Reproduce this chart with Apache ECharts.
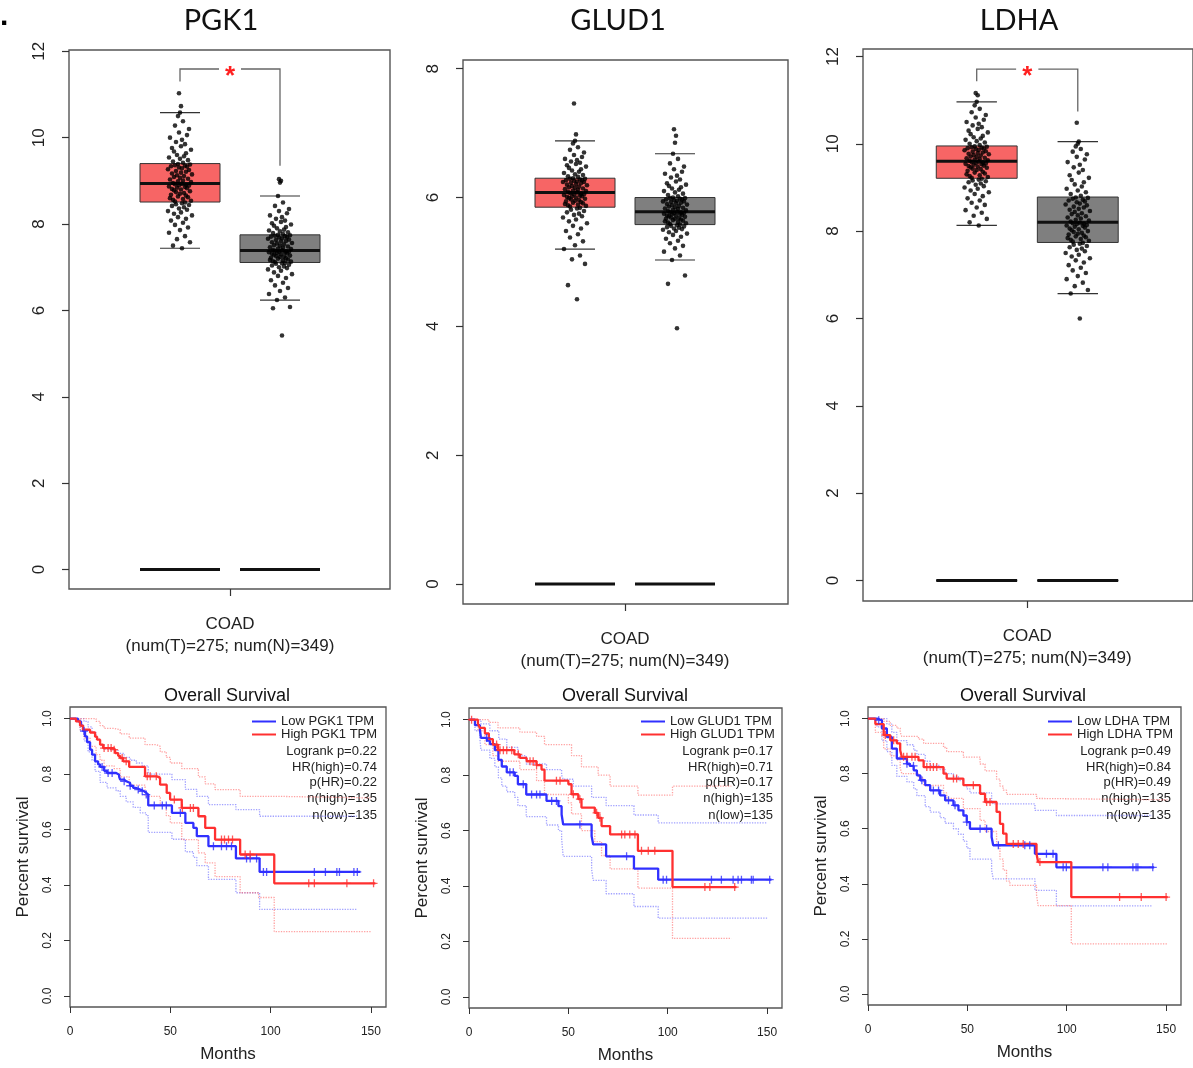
<!DOCTYPE html>
<html>
<head>
<meta charset="utf-8">
<title>PGK1 / GLUD1 / LDHA in COAD</title>
<script src="https://cdn.jsdelivr.net/npm/echarts@6.0.0/dist/echarts.min.js"></script>
<style>
  html, body { margin: 0; padding: 0; background: #fff; }
  #chart { width: 1193px; height: 1068px; }
</style>
</head>
<body>
<div id="chart"></div>
<script>
// ---------- data ----------
const genes = ["PGK1", "GLUD1", "LDHA"];
const groupLabel = "COAD\n(num(T)=275; num(N)=349)";

const boxTicksPGK1 = [0, 2, 4, 6, 8, 10, 12];
const boxTicksGLUD1 = [0, 2, 4, 6, 8];
const boxTicksLDHA = [0, 2, 4, 6, 8, 10, 12];
const kmTicksX = [0, 50, 100, 150];
const kmTicksY = [0, 0.2, 0.4, 0.6, 0.8, 1.0];

// [lower whisker, Q1, median, Q3, upper whisker] for tumour (T) and normal (N)
const boxPGK1 = [[7.44, 8.51, 8.94, 9.40, 10.58], [6.24, 7.11, 7.39, 7.75, 8.65]];
const boxGLUD1 = [[5.20, 5.85, 6.08, 6.30, 6.88], [5.03, 5.58, 5.78, 6.00, 6.68]];
const boxLDHA = [[8.13, 9.21, 9.60, 9.95, 10.96], [6.57, 7.74, 8.20, 8.78, 10.05]];
const zeroBox = [0, 0, 0, 0, 0];

// significance bracket: [left end, top, right end]
const bracketPGK1 = [11.30, 11.59, 9.35];
const bracketLDHA = [11.43, 11.71, 10.74];

// jittered sample points (expression values)
const jitPGK1T = [7.44,7.5,7.58,7.65,7.72,7.8,7.86,7.92,7.98,8.03,8.08,8.12,8.16,8.2,8.24,8.27,8.3,8.33,8.36,8.39,8.42,8.44,8.46,8.48,8.5,
  8.52,8.54,8.56,8.58,8.6,8.62,8.64,8.66,8.68,8.7,8.72,8.74,8.76,8.78,8.8,8.81,8.83,8.84,8.86,8.87,8.89,8.9,8.91,8.92,8.93,
  8.95,8.97,8.99,9.01,9.03,9.05,9.07,9.09,9.11,9.13,9.15,9.17,9.19,9.21,9.23,9.25,9.27,9.29,9.31,9.33,9.34,9.35,9.36,9.38,9.39,
  9.42,9.45,9.48,9.51,9.54,9.57,9.6,9.64,9.68,9.72,9.76,9.8,9.85,9.9,9.95,10.0,10.06,10.12,10.2,10.28,10.38,10.5,10.58,10.73,11.03];
const jitPGK1N = [5.42,6.05,6.08,6.24,6.3,6.38,6.45,6.52,6.58,6.64,6.7,6.75,6.8,6.84,6.88,6.92,6.95,6.98,7.0,7.02,7.04,7.06,7.08,7.09,7.1,
  7.12,7.13,7.14,7.16,7.17,7.18,7.2,7.21,7.22,7.24,7.25,7.26,7.27,7.29,7.3,7.31,7.32,7.33,7.34,7.35,7.36,7.36,7.37,7.38,7.39,
  7.4,7.42,7.43,7.45,7.46,7.48,7.5,7.51,7.53,7.55,7.56,7.58,7.6,7.61,7.63,7.64,7.66,7.67,7.69,7.7,7.71,7.72,7.73,7.74,7.75,
  7.77,7.79,7.81,7.83,7.85,7.87,7.9,7.93,7.96,7.99,8.02,8.05,8.08,8.12,8.16,8.2,8.25,8.3,8.35,8.42,8.5,8.65,8.96,9.0,9.04];
const jitGLUD1T = [4.42,4.64,4.97,5.04,5.1,5.2,5.26,5.32,5.38,5.43,5.48,5.52,5.56,5.6,5.63,5.66,5.69,5.71,5.73,5.75,5.77,5.79,5.81,5.83,5.84,
  5.86,5.87,5.88,5.89,5.9,5.91,5.92,5.93,5.94,5.95,5.96,5.97,5.98,5.99,6.0,6.01,6.02,6.02,6.03,6.04,6.05,6.05,6.06,6.07,6.08,
  6.09,6.1,6.11,6.12,6.13,6.14,6.15,6.16,6.17,6.18,6.19,6.2,6.21,6.22,6.23,6.24,6.24,6.25,6.26,6.27,6.27,6.28,6.29,6.29,6.3,
  6.32,6.33,6.35,6.36,6.38,6.4,6.42,6.44,6.46,6.48,6.5,6.52,6.54,6.56,6.58,6.6,6.63,6.66,6.7,6.74,6.78,6.84,6.88,6.98,7.46];
const jitGLUD1N = [3.97,4.66,4.79,5.03,5.1,5.16,5.21,5.25,5.29,5.33,5.36,5.39,5.42,5.44,5.46,5.48,5.5,5.51,5.52,5.53,5.54,5.55,5.56,5.57,5.58,
  5.59,5.6,5.61,5.62,5.63,5.64,5.65,5.66,5.67,5.67,5.68,5.69,5.7,5.71,5.72,5.72,5.73,5.74,5.75,5.75,5.76,5.76,5.77,5.77,5.78,
  5.79,5.8,5.81,5.82,5.83,5.84,5.85,5.86,5.87,5.88,5.89,5.9,5.91,5.92,5.93,5.94,5.94,5.95,5.96,5.97,5.97,5.98,5.99,5.99,6.0,
  6.02,6.04,6.06,6.08,6.1,6.12,6.14,6.16,6.18,6.2,6.22,6.25,6.28,6.31,6.34,6.37,6.4,6.44,6.48,6.53,6.6,6.68,6.85,6.96,7.06];
const jitLDHAT = [8.13,8.2,8.28,8.35,8.42,8.48,8.54,8.6,8.65,8.7,8.75,8.8,8.85,8.89,8.93,8.97,9.0,9.03,9.06,9.09,9.12,9.14,9.16,9.18,9.2,
  9.22,9.24,9.26,9.28,9.3,9.32,9.34,9.36,9.38,9.4,9.42,9.43,9.45,9.46,9.48,9.49,9.5,9.52,9.53,9.54,9.55,9.56,9.57,9.58,9.59,
  9.61,9.62,9.64,9.65,9.67,9.68,9.7,9.71,9.73,9.74,9.76,9.77,9.79,9.8,9.82,9.83,9.85,9.86,9.88,9.89,9.9,9.91,9.92,9.93,9.94,
  9.97,10.0,10.03,10.06,10.09,10.12,10.15,10.18,10.22,10.26,10.3,10.34,10.38,10.42,10.46,10.5,10.55,10.6,10.66,10.72,10.8,10.88,10.96,11.11,11.16];
const jitLDHAN = [6.0,6.57,6.65,6.74,6.82,6.9,6.97,7.04,7.1,7.16,7.22,7.28,7.33,7.38,7.42,7.46,7.5,7.54,7.57,7.6,7.63,7.66,7.69,7.71,7.73,
  7.76,7.78,7.8,7.82,7.84,7.86,7.88,7.9,7.92,7.94,7.96,7.98,8.0,8.02,8.04,8.06,8.08,8.1,8.12,8.13,8.14,8.16,8.17,8.18,8.19,
  8.22,8.24,8.26,8.29,8.31,8.34,8.36,8.39,8.41,8.44,8.46,8.49,8.51,8.54,8.56,8.59,8.61,8.63,8.66,8.68,8.7,8.72,8.74,8.76,8.77,
  8.81,8.85,8.89,8.93,8.97,9.02,9.07,9.12,9.17,9.22,9.28,9.34,9.4,9.46,9.52,9.58,9.64,9.7,9.76,9.82,9.88,9.94,10.0,10.05,10.48];
// horizontal jitter of each point (in box units)
const jitterOffsets = [0.02,-0.07,0.10,-0.03,0.05,-0.11,0.00,0.08,-0.05,0.03,
  -0.09,0.06,-0.02,0.12,-0.06,0.01,-0.12,0.07,-0.01,0.04,
  -0.08,0.09,-0.04,0.02,0.05,-0.05,0.11,-0.07,0.03,-0.10,
  0.08,-0.02,0.06,-0.09,0.00,0.04,-0.04,0.10,-0.06,0.01,
  -0.08,0.07,-0.03,0.05,-0.11,0.09,-0.01,0.06,-0.05,0.02,
  -0.07,0.11,-0.02,0.03,-0.10,0.08,0.00,-0.06,0.04,-0.03,
  0.12,-0.08,0.01,0.06,-0.04,0.09,-0.12,0.02,-0.01,0.07,
  -0.09,0.05,-0.05,0.10,-0.02,0.03,-0.07,0.08,0.00,-0.11,
  0.04,-0.03,0.06,-0.06,0.11,-0.08,0.01,0.05,-0.04,0.02,
  -0.10,0.07,-0.01,0.09,-0.05,0.03,-0.02,0.00,0.01,-0.01];

// Kaplan-Meier curves: [month, survival] steps
const kmPGK1Low = [[0,1],[4,0.99],[5.5,0.975],[6.5,0.955],[7.5,0.936],[8.5,0.915],[10,0.888],[11,0.87],[12.5,0.846],[14,0.835],[15,0.826],[17,0.812],[18.5,0.804],[23,0.798],[24.5,0.79],[25,0.78],[27,0.774],[28,0.768],[30,0.758],[31.5,0.75],[33,0.744],[35,0.738],[37,0.732],[38,0.726],[39,0.687],[50.8,0.66],[57.5,0.624],[61.5,0.606],[63.2,0.576],[69,0.54],[82.7,0.496],[94.5,0.447],[144.7,0.447]];
const kmPGK1High = [[0,1],[3,0.99],[5,0.975],[6.5,0.96],[10,0.95],[12.5,0.935],[13.5,0.924],[15,0.906],[16.5,0.894],[21.5,0.888],[22.5,0.876],[24,0.866],[25,0.858],[26.5,0.846],[29.5,0.826],[37.4,0.792],[43.2,0.786],[44.9,0.762],[48.2,0.732],[49.9,0.708],[55.7,0.678],[64,0.648],[67.4,0.606],[72.3,0.564],[84.8,0.51],[101.8,0.406],[152.2,0.406]];
const ciPGK1LowUp = [[0,1],[5,1],[7,0.99],[9,0.97],[11,0.95],[13,0.925],[15,0.905],[17,0.89],[19,0.885],[24,0.875],[27,0.86],[30,0.85],[33,0.84],[36,0.83],[39,0.8],[50.8,0.78],[57.5,0.745],[63.2,0.72],[69,0.69],[82.7,0.672],[94.5,0.648],[143,0.648]];
const ciPGK1LowDn = [[0,1],[3,0.99],[5,0.96],[7,0.92],[9,0.88],[11,0.85],[12.5,0.81],[15,0.77],[18.5,0.75],[23,0.74],[25,0.72],[28,0.7],[31.5,0.68],[35,0.66],[38,0.65],[39,0.59],[50.8,0.565],[57.5,0.52],[61.5,0.5],[63.2,0.47],[69,0.42],[82.7,0.372],[94.5,0.312],[143,0.312]];
const ciPGK1HighUp = [[0,1],[10,1],[13,0.99],[15,0.975],[17,0.965],[22,0.96],[25,0.945],[29.5,0.93],[37.4,0.906],[43,0.9],[45,0.88],[48,0.86],[50,0.84],[55.7,0.82],[64,0.79],[67.4,0.765],[72.3,0.744],[84.8,0.72],[101.8,0.714],[150,0.714]];
const ciPGK1HighDn = [[0,1],[5,0.96],[7,0.93],[10,0.9],[13,0.87],[15,0.85],[17,0.83],[22,0.82],[25,0.79],[29.5,0.76],[37.4,0.72],[45,0.69],[48,0.65],[50,0.624],[55.7,0.564],[64,0.516],[67.4,0.48],[72.3,0.43],[84.8,0.372],[94,0.355],[101.8,0.232],[150,0.232]];
const cenPGK1Low = [7,16,19,21,27,30,34,36,38,42,46,48,55,71.5,75.5,78,80.5,88,89.8,93,96.4,98,121.8,127.3,133,134.3,141.5,143.2];
const cenPGK1High = [17,19,20.5,22,26,28,38.5,40,43,52,56,60,61.5,75.5,77,79,81,87.3,89.8,119,121.8,138,151.3];

const kmGLUD1Low = [[0,1],[3,0.98],[5.5,0.964],[6,0.934],[9,0.924],[10.5,0.912],[13,0.89],[14.8,0.855],[16.5,0.831],[19,0.81],[23,0.797],[24.6,0.767],[28.8,0.73],[39,0.707],[45,0.688],[46.6,0.658],[47.4,0.622],[61.7,0.58],[62.5,0.55],[69,0.507],[83,0.463],[95.2,0.423],[152.2,0.423]];
const kmGLUD1High = [[0,1],[4.5,0.985],[5.5,0.97],[8,0.95],[10,0.93],[12,0.91],[14.6,0.89],[22.8,0.875],[25.6,0.862],[29,0.85],[34,0.836],[36.5,0.82],[38,0.78],[50,0.767],[51.6,0.731],[55,0.713],[56.6,0.683],[63.3,0.664],[65,0.646],[66.7,0.616],[71,0.586],[85,0.527],[102.4,0.396],[134.6,0.396]];
const ciGLUD1LowUp = [[0,1],[6,0.985],[10.5,0.96],[15,0.93],[19,0.9],[24.6,0.87],[28.8,0.84],[39,0.82],[46.6,0.8],[47.4,0.785],[52.5,0.76],[61.7,0.72],[69,0.69],[83,0.656],[95.2,0.628],[150,0.628]];
const ciGLUD1LowDn = [[0,1],[3,0.96],[5.5,0.93],[6,0.89],[10.5,0.86],[13,0.83],[14.8,0.79],[16.5,0.76],[19,0.74],[23,0.72],[24.6,0.69],[28.8,0.65],[39,0.62],[45,0.6],[46.6,0.57],[47.4,0.507],[61.7,0.46],[62.5,0.42],[69,0.372],[83,0.326],[95.2,0.284],[150,0.284]];
const ciGLUD1HighUp = [[0,1],[8,1],[10,0.99],[14.6,0.97],[25.6,0.955],[34,0.94],[38,0.91],[51.6,0.87],[56.6,0.83],[65,0.8],[71,0.76],[85,0.728],[102.4,0.76],[132,0.76]];
const ciGLUD1HighDn = [[0,1],[4.5,0.96],[8,0.91],[12,0.87],[14.6,0.85],[25.6,0.82],[34,0.78],[38,0.73],[50,0.7],[51.6,0.66],[56.6,0.6],[63.3,0.56],[66.7,0.51],[71,0.462],[85,0.392],[102.4,0.211],[132,0.211]];
const cenGLUD1Low = [8.9,20.6,22.3,27.3,31.5,34,35.7,41.6,44,55.8,79.3,97.7,99.4,122,127,132.9,135.4,137.1,142.1,143,151.3];
const cenGLUD1High = [1.3,13.9,15.6,17.3,19,21.5,24.8,30.7,32.3,34,44,45.8,52.5,55.8,64.2,65.9,76.8,78.4,80.9,83.5,86.8,90.2,93.5,118.7,121.2,133.7];

const kmLDHALow = [[0,1],[4.5,0.994],[7,0.964],[9.5,0.933],[12,0.891],[14.5,0.855],[19.6,0.836],[21,0.828],[23,0.812],[24.6,0.794],[26.3,0.776],[28.8,0.758],[31.3,0.739],[36.3,0.721],[38.8,0.703],[43,0.685],[45.5,0.667],[48,0.648],[49.7,0.624],[51.3,0.6],[62.2,0.57],[63,0.54],[84,0.509],[94.8,0.46],[144,0.46]];
const kmLDHAHigh = [[0,1],[3.7,0.98],[7.9,0.94],[11.2,0.921],[14.5,0.91],[16.2,0.885],[17,0.861],[25.4,0.848],[28,0.824],[38,0.8],[39.6,0.782],[48,0.758],[56.4,0.727],[58.9,0.697],[64.7,0.661],[66.4,0.618],[68,0.582],[69.7,0.545],[84.8,0.509],[85.6,0.479],[102.3,0.352],[150.8,0.352]];
const ciLDHALowUp = [[0,1],[7,1],[9.5,0.98],[12,0.95],[14.5,0.92],[19.6,0.905],[23,0.885],[24.6,0.87],[28.8,0.845],[31.3,0.83],[36.3,0.815],[38.8,0.8],[43,0.79],[45.5,0.775],[48,0.76],[49.7,0.745],[51.3,0.73],[62.2,0.7],[63,0.69],[84,0.667],[94.8,0.648],[143,0.648]];
const ciLDHALowDn = [[0,1],[4.5,0.97],[7,0.92],[9.5,0.88],[12,0.83],[14.5,0.79],[19.6,0.77],[23,0.745],[24.6,0.72],[28.8,0.68],[31.3,0.66],[36.3,0.64],[38.8,0.62],[43,0.6],[45.5,0.58],[48,0.555],[49.7,0.53],[51.3,0.49],[62.2,0.45],[63,0.418],[84,0.376],[94.8,0.32],[143,0.32]];
const ciLDHAHighUp = [[0,1],[7.9,0.99],[11.2,0.975],[14.5,0.965],[16.2,0.95],[17,0.935],[25.4,0.925],[28,0.91],[38,0.895],[39.6,0.88],[48,0.86],[56.4,0.835],[58.9,0.81],[64.7,0.78],[66.4,0.755],[68,0.74],[69.7,0.725],[84.8,0.71],[85.6,0.705],[150.8,0.705]];
const ciLDHAHighDn = [[0,1],[3.7,0.95],[7.9,0.89],[11.2,0.865],[14.5,0.85],[16.2,0.82],[17,0.8],[25.4,0.785],[28,0.757],[38,0.73],[39.6,0.71],[48,0.673],[56.4,0.63],[58.9,0.59],[64.7,0.54],[66.4,0.49],[68,0.45],[69.7,0.41],[71.4,0.394],[84.8,0.36],[85.6,0.321],[102.3,0.182],[150.8,0.182]];
const cenLDHALow = [5.4,19.6,22.9,27.1,32.9,35.5,40.5,43.8,49.7,56.4,59.7,65.6,78.9,81.4,89.8,93.1,98.2,99.8,118.2,120.7,133.3,134.9,135.8,143.3];
const cenLDHAHigh = [8.7,12.9,17.9,19.6,22.1,23.7,29.6,31.3,32.9,34.6,43,44.6,53,59.7,61.4,73.1,75.6,78.1,86.5,126.6,137.5,150];

const kmTextPGK1 = ["Logrank p=0.22", "HR(high)=0.74", "p(HR)=0.22", "n(high)=135", "n(low)=135"];
const kmTextGLUD1 = ["Logrank p=0.17", "HR(high)=0.71", "p(HR)=0.17", "n(high)=135", "n(low)=135"];
const kmTextLDHA = ["Logrank p=0.49", "HR(high)=0.84", "p(HR)=0.49", "n(high)=135", "n(low)=135"];

// ---------- layout / style ----------
const FONT = "'Liberation Sans', Arial, sans-serif";
const frameColor = "#555";
const tumorColor = "#f76565";
const normalColor = "#7f7f7f";
const lowColor = "#3030ff";
const highColor = "#ff3030";
const lowBand = "rgba(110,110,255,0.65)";
const highBand = "rgba(255,110,110,0.65)";
const statsY = [751, 767, 782.5, 798.5, 815];

const panels = [
  { gene: "PGK1", box: boxPGK1, jitT: jitPGK1T, jitN: jitPGK1N, bracket: bracketPGK1, ticks: boxTicksPGK1,
    km: [kmPGK1Low, kmPGK1High, ciPGK1LowUp, ciPGK1LowDn, ciPGK1HighUp, ciPGK1HighDn, cenPGK1Low, cenPGK1High], text: kmTextPGK1,
    boxGrid: { left: 69, top: 50, width: 321, height: 539 }, xr: [-0.11, 3.10], yr: [-0.45, 12.03],
    kmGrid: { left: 70, top: 707, width: 316, height: 300 }, titleX: 221, kmTitleX: 227, textRight: 377, legendLeft: 252 },
  { gene: "GLUD1", box: boxGLUD1, jitT: jitGLUD1T, jitN: jitGLUD1N, bracket: null, ticks: boxTicksGLUD1,
    km: [kmGLUD1Low, kmGLUD1High, ciGLUD1LowUp, ciGLUD1LowDn, ciGLUD1HighUp, ciGLUD1HighDn, cenGLUD1Low, cenGLUD1High], text: kmTextGLUD1,
    boxGrid: { left: 463, top: 60, width: 325, height: 544 }, xr: [-0.12, 3.13], yr: [-0.31, 8.135],
    kmGrid: { left: 469, top: 708, width: 313, height: 300 }, titleX: 618, kmTitleX: 625, textRight: 773, legendLeft: 641 },
  { gene: "LDHA", box: boxLDHA, jitT: jitLDHAT, jitN: jitLDHAN, bracket: bracketLDHA, ticks: boxTicksLDHA,
    km: [kmLDHALow, kmLDHAHigh, ciLDHALowUp, ciLDHALowDn, ciLDHAHighUp, ciLDHAHighDn, cenLDHALow, cenLDHAHigh], text: kmTextLDHA,
    boxGrid: { left: 863, top: 49, width: 335, height: 552 }, xr: [-0.125, 3.14], yr: [-0.47, 12.17],
    kmGrid: { left: 868, top: 707, width: 313, height: 298 }, titleX: 1019, kmTitleX: 1023, textRight: 1171, legendLeft: 1048 }
];

function survAt(curve, t) {
  let s = curve[0][1];
  for (const p of curve) { if (p[0] <= t) s = p[1]; else break; }
  return s;
}

function renderBox(params, api) {
  const x = api.value(0), lo = api.value(1), q1 = api.value(2), md = api.value(3), q3 = api.value(4), hi = api.value(5);
  const tl = api.coord([x - 0.4, q3]), br = api.coord([x + 0.4, q1]);
  const line = (a, b, w, c) => ({ type: "line", shape: { x1: a[0], y1: a[1], x2: b[0], y2: b[1] }, style: { stroke: c || "#333", lineWidth: w } });
  return {
    type: "group",
    children: [
      line(api.coord([x - 0.2, hi]), api.coord([x + 0.2, hi]), 1.2),
      line(api.coord([x - 0.2, lo]), api.coord([x + 0.2, lo]), 1.2),
      { type: "rect", shape: { x: tl[0], y: tl[1], width: br[0] - tl[0], height: br[1] - tl[1] },
        style: { fill: api.visual("color"), stroke: "#333", lineWidth: 1 } },
      line(api.coord([x - 0.4, md]), api.coord([x + 0.4, md]), 3, "#111")
    ]
  };
}

function renderBracket(params, api) {
  const yl = api.value(0), yt = api.value(1), yr = api.value(2);
  const a = api.coord([1, yl]), b = api.coord([1, yt]), c = api.coord([1.39, yt]);
  const d = api.coord([1.61, yt]), e = api.coord([2, yt]), f = api.coord([2, yr]);
  const star = api.coord([1.5, yt]);
  const st = { stroke: "#666", lineWidth: 1.3, fill: null };
  return {
    type: "group",
    children: [
      { type: "polyline", shape: { points: [a, b, c] }, style: st },
      { type: "polyline", shape: { points: [d, e, f] }, style: st },
      { type: "text", style: { text: "*", x: star[0], y: star[1] + 8, fill: "#ff2020",
        font: "bold 26px " + FONT, align: "center", verticalAlign: "middle" } }
    ]
  };
}

const grid = [], xAxis = [], yAxis = [], series = [], legend = [], graphic = [];

graphic.push({ type: "text", left: 0, top: 2, style: { text: ".", font: "bold 30px " + FONT, fill: "#000" } });

panels.forEach((p) => {
  // ----- box plot -----
  const gb = grid.length;
  grid.push(Object.assign({ show: true, borderColor: frameColor, borderWidth: 1.4, backgroundColor: "transparent" }, p.boxGrid));
  xAxis.push({
    gridIndex: gb, type: "value", min: p.xr[0], max: p.xr[1],
    axisLine: { show: false, onZero: false }, splitLine: { show: false },
    axisTick: { show: true, customValues: [1.5], length: 7, lineStyle: { color: "#333", width: 1.2 } },
    axisLabel: { customValues: [1.5], formatter: () => groupLabel, fontSize: 17, lineHeight: 22, color: "#222", margin: 24, fontFamily: FONT }
  });
  yAxis.push({
    gridIndex: gb, type: "value", min: p.yr[0], max: p.yr[1],
    axisLine: { show: false, onZero: false }, splitLine: { show: false },
    axisTick: { show: true, customValues: p.ticks, length: 7, lineStyle: { color: "#333", width: 1.2 } },
    axisLabel: { customValues: p.ticks, rotate: 90, fontSize: 17, color: "#222", margin: 21, fontFamily: FONT }
  });
  series.push({
    type: "custom", xAxisIndex: gb, yAxisIndex: gb, renderItem: renderBox, clip: false, silent: true, z: 2,
    encode: { x: 0, y: [1, 2, 3, 4, 5] },
    data: [
      { value: [1].concat(p.box[0]), itemStyle: { color: tumorColor } },
      { value: [2].concat(p.box[1]), itemStyle: { color: normalColor } },
      { value: [1].concat(zeroBox), itemStyle: { color: tumorColor } },
      { value: [2].concat(zeroBox), itemStyle: { color: normalColor } }
    ]
  });
  series.push({
    type: "scatter", xAxisIndex: gb, yAxisIndex: gb, symbolSize: 4.6, silent: true, z: 3,
    itemStyle: { color: "#000" },
    data: p.jitT.map((y, k) => [1 + jitterOffsets[k], y]).concat(p.jitN.map((y, k) => [2 + jitterOffsets[k], y]))
  });
  if (p.bracket) {
    series.push({
      type: "custom", xAxisIndex: gb, yAxisIndex: gb, renderItem: renderBracket, clip: false, silent: true, z: 4,
      encode: { x: [], y: [0, 1, 2] }, data: [p.bracket]
    });
  }
  graphic.push({ type: "text", x: p.titleX, y: 21,
    style: { text: p.gene, font: "29px Lato, 'Open Sans', sans-serif", fill: "#111", align: "center", verticalAlign: "middle" } });

  // ----- survival plot -----
  const gk = grid.length;
  grid.push(Object.assign({ show: true, borderColor: frameColor, borderWidth: 1.3, backgroundColor: "transparent" }, p.kmGrid));
  xAxis.push({
    gridIndex: gk, type: "value", min: 0, max: 157.5,
    axisLine: { show: false, onZero: false }, splitLine: { show: false },
    axisTick: { show: true, customValues: kmTicksX, length: 6, lineStyle: { color: "#333" } },
    axisLabel: { customValues: kmTicksX, fontSize: 12, color: "#222", margin: 19, fontFamily: FONT },
    name: "Months", nameLocation: "middle", nameGap: 39,
    nameTextStyle: { fontSize: 17, color: "#222", fontFamily: FONT }
  });
  yAxis.push({
    gridIndex: gk, type: "value", min: -0.04, max: 1.042,
    axisLine: { show: false, onZero: false }, splitLine: { show: false },
    axisTick: { show: true, customValues: kmTicksY, length: 6, lineStyle: { color: "#333" } },
    axisLabel: { customValues: kmTicksY, rotate: 90, fontSize: 12, color: "#222", margin: 16, fontFamily: FONT,
      formatter: (v) => v.toFixed(1) },
    name: "Percent survival", nameLocation: "middle", nameGap: 38, nameRotate: 90,
    nameTextStyle: { fontSize: 17, color: "#222", fontFamily: FONT }
  });
  const [low, high, lowUp, lowDn, highUp, highDn, cenLow, cenHigh] = p.km;
  const lowName = "Low " + p.gene + " TPM", highName = "High " + p.gene + " TPM";
  const band = (data, color) => ({
    type: "line", xAxisIndex: gk, yAxisIndex: gk, step: "end", showSymbol: false, silent: true, z: 2,
    lineStyle: { type: "dotted", width: 1.3, color: color }, data: data
  });
  series.push(band(lowUp, lowBand), band(lowDn, lowBand), band(highUp, highBand), band(highDn, highBand));
  const curve = (name, data, color) => ({
    name: name, type: "line", xAxisIndex: gk, yAxisIndex: gk, step: "end", showSymbol: false, silent: true, z: 3,
    color: color, lineStyle: { width: 2.3, color: color }, data: data
  });
  series.push(curve(lowName, low, lowColor), curve(highName, high, highColor));
  const marks = (curveData, times, color) => ({
    type: "scatter", xAxisIndex: gk, yAxisIndex: gk, silent: true, z: 4,
    symbol: "path://M5,0L5,10M0,5L10,5", symbolSize: 8,
    itemStyle: { color: "rgba(0,0,0,0)", borderColor: color, borderWidth: 1.3 },
    data: times.map((t) => [t, survAt(curveData, t)])
  });
  series.push(marks(low, cenLow, lowColor), marks(high, cenHigh, highColor));

  legend.push({
    data: [lowName, highName], left: p.legendLeft, top: 715, orient: "vertical", icon: "rect",
    itemWidth: 24, itemHeight: 2, itemGap: 0, padding: 0, selectedMode: false,
    textStyle: { fontSize: 13, lineHeight: 13, color: "#222", fontFamily: FONT }
  });
  graphic.push({ type: "text", x: p.kmTitleX, y: 696,
    style: { text: "Overall Survival", font: "18px " + FONT, fill: "#111", align: "center", verticalAlign: "middle" } });
  p.text.forEach((t, k) => {
    graphic.push({ type: "text", x: p.textRight, y: statsY[k],
      style: { text: t, font: "13px " + FONT, fill: "#222", align: "right", verticalAlign: "middle" } });
  });
});

const chart = echarts.init(document.getElementById("chart"), null, { renderer: "canvas" });
chart.setOption({
  backgroundColor: "#fff",
  animation: false,
  grid: grid,
  xAxis: xAxis,
  yAxis: yAxis,
  legend: legend,
  graphic: graphic,
  series: series
});
window.addEventListener("resize", function () { chart.resize(); });
</script>
</body>
</html>
